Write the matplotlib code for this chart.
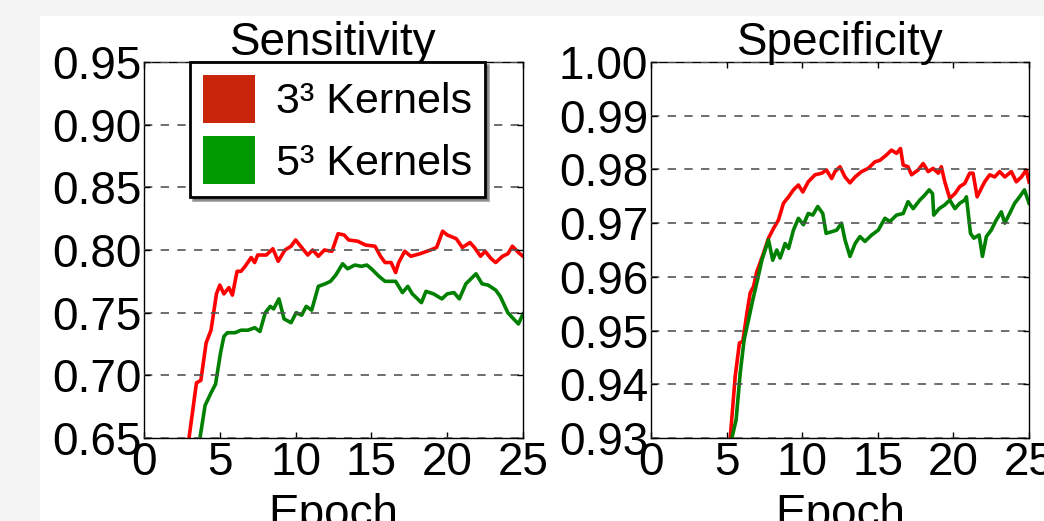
import numpy as np
import matplotlib.pyplot as plt
from matplotlib.patches import Patch, Rectangle

plt.rcParams['font.family'] = ['Liberation Sans', 'DejaVu Sans']

# (epoch, value)
sens_3 = [(2.8, 0.62), (2.97, 0.65), (3.46, 0.694), (3.75, 0.696), (4.1, 0.726), (4.42, 0.736),
          (4.78, 0.765), (5.0, 0.772), (5.27, 0.765), (5.6, 0.770), (5.83, 0.764), (6.14, 0.783),
          (6.4, 0.783), (6.67, 0.787), (7.07, 0.794), (7.3, 0.790), (7.5, 0.796), (8.07, 0.796),
          (8.5, 0.801), (8.85, 0.791), (9.3, 0.800), (9.7, 0.803), (10.0, 0.808), (10.4, 0.802),
          (10.8, 0.796), (11.13, 0.800), (11.5, 0.795), (11.9, 0.800), (12.4, 0.799), (12.8, 0.813),
          (13.2, 0.812), (13.5, 0.808), (14.1, 0.807), (14.6, 0.804), (15.24, 0.803), (15.6, 0.795),
          (15.9, 0.790), (16.3, 0.790), (16.6, 0.782), (16.8, 0.790), (17.2, 0.799), (17.6, 0.795),
          (18.2, 0.797), (18.9, 0.800), (19.3, 0.802), (19.7, 0.815), (20.0, 0.812), (20.6, 0.809),
          (21.0, 0.802), (21.5, 0.806), (21.8, 0.802), (22.2, 0.795), (22.5, 0.799), (22.9, 0.793),
          (23.2, 0.790), (23.65, 0.795), (24.0, 0.797), (24.3, 0.803), (24.7, 0.798), (25.0, 0.795)]

sens_5 = [(3.55, 0.62), (3.69, 0.65), (4.03, 0.676), (4.42, 0.686), (4.72, 0.693), (5.05, 0.718),
          (5.27, 0.731), (5.5, 0.734), (6.0, 0.734), (6.4, 0.736), (6.86, 0.736), (7.3, 0.738),
          (7.65, 0.735), (8.0, 0.750), (8.33, 0.755), (8.55, 0.753), (8.9, 0.761), (9.24, 0.745),
          (9.7, 0.742), (10.04, 0.750), (10.4, 0.748), (10.7, 0.755), (11.06, 0.752), (11.5, 0.771),
          (11.95, 0.773), (12.3, 0.775), (12.65, 0.780), (13.1, 0.789), (13.43, 0.785), (13.9, 0.788),
          (14.34, 0.787), (14.7, 0.788), (15.0, 0.785), (15.5, 0.779), (15.9, 0.775), (16.6, 0.775),
          (17.05, 0.766), (17.4, 0.771), (17.7, 0.765), (18.3, 0.758), (18.6, 0.767), (19.1, 0.765),
          (19.65, 0.761), (20.0, 0.765), (20.45, 0.766), (20.8, 0.761), (21.23, 0.773), (21.9, 0.781),
          (22.3, 0.773), (22.7, 0.772), (23.2, 0.768), (23.5, 0.763), (24.0, 0.750), (24.3, 0.746),
          (24.7, 0.741), (25.0, 0.749)]

spec_3 = [(5.15, 0.925), (5.24, 0.93), (5.57, 0.9415), (5.85, 0.9477), (6.07, 0.948), (6.34, 0.9532),
          (6.56, 0.957), (6.78, 0.9582), (7.0, 0.961), (7.2, 0.9625), (7.44, 0.9644), (7.77, 0.9672),
          (8.1, 0.969), (8.43, 0.9706), (8.76, 0.9737), (9.1, 0.9749), (9.42, 0.9762), (9.75, 0.9771),
          (10.04, 0.9758), (10.4, 0.9777), (10.85, 0.979), (11.3, 0.9793), (11.6, 0.9799), (11.95, 0.9783),
          (12.17, 0.9796), (12.5, 0.9805), (12.83, 0.9786), (13.16, 0.9775), (13.5, 0.9786), (13.93, 0.9796),
          (14.37, 0.9802), (14.8, 0.9814), (15.14, 0.9817), (15.58, 0.9827), (15.9, 0.9836), (16.24, 0.983),
          (16.5, 0.9839), (16.68, 0.9808), (17.0, 0.9805), (17.23, 0.979), (17.67, 0.9799), (18.0, 0.9811),
          (18.33, 0.9796), (18.66, 0.9802), (19.0, 0.9793), (19.2, 0.9805), (19.43, 0.9777), (19.76, 0.9746),
          (20.1, 0.9755), (20.42, 0.9768), (20.75, 0.9774), (21.08, 0.9793), (21.3, 0.9793), (21.57, 0.9749),
          (21.85, 0.9765), (22.07, 0.9777), (22.4, 0.979), (22.73, 0.9786), (23.06, 0.9796), (23.4, 0.9786),
          (23.83, 0.9796), (24.16, 0.9777), (24.5, 0.9786), (24.82, 0.9799), (25.0, 0.9777)]

spec_5 = [(5.27, 0.925), (5.35, 0.93), (5.63, 0.9334), (5.9, 0.9421), (6.16, 0.9483), (6.45, 0.952),
          (6.73, 0.9557), (7.04, 0.9594), (7.33, 0.9631), (7.77, 0.9669), (8.05, 0.9631), (8.32, 0.965),
          (8.54, 0.9635), (8.87, 0.9662), (9.1, 0.9653), (9.42, 0.9687), (9.75, 0.9709), (10.08, 0.9697),
          (10.4, 0.9718), (10.7, 0.9715), (11.03, 0.9731), (11.36, 0.9718), (11.58, 0.9681), (11.95, 0.9684),
          (12.28, 0.9687), (12.6, 0.97), (12.83, 0.9669), (13.16, 0.9638), (13.5, 0.9662), (13.82, 0.9675),
          (14.15, 0.9666), (14.6, 0.9678), (15.03, 0.9687), (15.47, 0.9709), (15.8, 0.9703), (16.24, 0.9715),
          (16.68, 0.9718), (17.0, 0.974), (17.34, 0.9727), (17.78, 0.9743), (18.1, 0.9752), (18.4, 0.9762),
          (18.62, 0.9755), (18.7, 0.9715), (19.06, 0.9727), (19.43, 0.9734), (19.76, 0.9743), (20.1, 0.9727),
          (20.42, 0.9737), (20.75, 0.9743), (20.86, 0.9749), (21.13, 0.9681), (21.35, 0.9672), (21.7, 0.9678),
          (21.92, 0.9638), (22.18, 0.9675), (22.5, 0.9687), (22.84, 0.9706), (23.17, 0.9721), (23.4, 0.97),
          (23.72, 0.9718), (24.05, 0.9737), (24.38, 0.9749), (24.7, 0.9762), (25.0, 0.9737)]

sens_ticks = [0.65, 0.70, 0.75, 0.80, 0.85, 0.90, 0.95]
spec_ticks = [0.93, 0.94, 0.95, 0.96, 0.97, 0.98, 0.99, 1.00]
epoch_ticks = [0, 5, 10, 15, 20, 25]
labels = ["3\u00b3 Kernels", "5\u00b3 Kernels"]

W, H = 1044, 521


def style(ax, yticks):
    ax.set_xlim(0, 25)
    ax.set_ylim(yticks[0], yticks[-1])
    ax.set_xticks(epoch_ticks)
    ax.set_yticks(yticks)
    ax.set_yticklabels(["%.2f" % t for t in yticks])
    ax.tick_params(direction='in', top=True, right=True, labelsize=33, pad=2, length=4, width=1)
    ax.yaxis.grid(True, linestyle=(0, (5, 5)), color='#555555', linewidth=1.2)
    ax.set_axisbelow(False)
    for s in ax.spines.values():
        s.set_linewidth(1.0)
    ax.set_xlabel("Epoch", fontsize=33, labelpad=6)


def draw(ax, series, yticks, title):
    for data, c in zip(series, ['#ff0000', '#008000']):
        x, y = zip(*data)
        ax.plot(x, y, color=c, linewidth=2.6)
    style(ax, yticks)
    ax.set_title(title, fontsize=33, pad=5)


def main():
    fig = plt.figure(figsize=(W / 100, H / 100), dpi=100)
    fig.patch.set_facecolor('#f4f4f4')
    fig.add_artist(Rectangle((40 / W, 0), 1 - 40 / W, 1 - 16 / H, transform=fig.transFigure,
                             facecolor='white', edgecolor='none', zorder=-10))

    ax1 = fig.add_axes([144 / W, 83 / H, 379 / W, 376 / H])
    ax2 = fig.add_axes([651 / W, 83 / H, 378 / W, 376 / H])

    draw(ax1, [sens_3, sens_5], sens_ticks, "Sensitivity")
    draw(ax2, [spec_3, spec_5], spec_ticks, "Specificity")

    handles = [Patch(facecolor='#c8250a', edgecolor='none'),
               Patch(facecolor='#009a00', edgecolor='none')]
    leg = ax1.legend(handles, labels, loc='upper left', bbox_to_anchor=(46 / 379, 1.0),
                     fontsize=31, handlelength=1.2, handleheight=1.35, labelspacing=0.3,
                     borderpad=0.3, handletextpad=0.5, borderaxespad=0, fancybox=False,
                     shadow=True, framealpha=1)
    leg.get_frame().set_edgecolor('black')
    leg.get_frame().set_linewidth(2)

    fig.savefig("out.png", dpi=100, facecolor=fig.get_facecolor())


if __name__ == "__main__":
    main()
